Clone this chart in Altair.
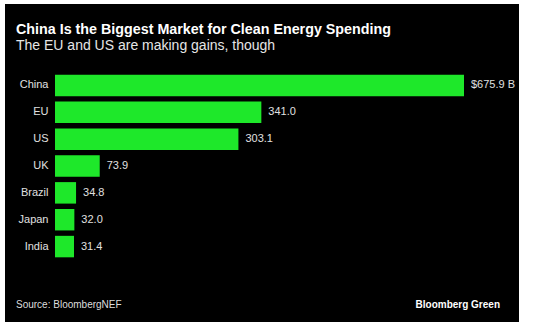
import altair as alt
import pandas as pd

countries = ["China", "EU", "US", "UK", "Brazil", "Japan", "India"]
values = [675.9, 341.0, 303.1, 73.9, 34.8, 32.0, 31.4]
labels = ["$675.9 B", "341.0", "303.1", "73.9", "34.8", "32.0", "31.4"]

title_text = "China Is the Biggest Market for Clean Energy Spending"
subtitle_text = "The EU and US are making gains, though"
source_text = "Source: BloombergNEF"
brand_text = "Bloomberg Green"

df = pd.DataFrame({"country": countries, "value": values, "label": labels})

FONT = "Liberation Sans"
GREEN = "#1ee82a"

x_enc = alt.X("value:Q", axis=None,
              scale=alt.Scale(domain=[0, 675.9], nice=False, zero=True))
y_enc = alt.Y("country:N", sort=countries, title=None,
              scale=alt.Scale(paddingInner=0.2, paddingOuter=0.1),
              axis=alt.Axis(domain=False, ticks=False, labelPadding=7,
                            labelFontSize=11, labelColor="#e0e0e0",
                            labelFont=FONT, grid=False, zindex=2))

one = pd.DataFrame({"k": [0]})

bg = alt.Chart(one).mark_rect(color="black").encode(
    x=alt.value(-50), x2=alt.value(464), y=alt.value(-68), y2=alt.value(250)
)

bars = alt.Chart(df).mark_bar(color=GREEN).encode(x=x_enc, y=y_enc)
vals = alt.Chart(df).mark_text(align="left", baseline="middle", dx=7,
                               fontSize=11, color="#e0e0e0", font=FONT).encode(
    x=x_enc, y=y_enc, text="label:N")

title = alt.Chart(one).mark_text(text=title_text, align="left", baseline="alphabetic",
                                 fontSize=14.3, fontWeight="bold", color="white",
                                 font=FONT).encode(x=alt.value(-39), y=alt.value(-38))
subtitle = alt.Chart(one).mark_text(text=subtitle_text, align="left", baseline="alphabetic",
                                    fontSize=14, color="#e6e6e6",
                                    font=FONT).encode(x=alt.value(-39), y=alt.value(-22))
source = alt.Chart(one).mark_text(text=source_text, align="left", baseline="alphabetic",
                                  fontSize=10, color="#dddddd",
                                  font=FONT).encode(x=alt.value(-39), y=alt.value(236))
brand = alt.Chart(one).mark_text(text=brand_text, align="right", baseline="alphabetic",
                                 fontSize=10, fontWeight="bold", color="white",
                                 font=FONT).encode(x=alt.value(445), y=alt.value(236))

chart = alt.layer(bg, bars, vals, title, subtitle, source, brand).properties(
    width=409, height=188,
    padding={"left": 55, "top": 72, "right": 70, "bottom": 68},
    autosize=alt.AutoSizeParams(type="none"),
    background="white",
).configure_view(strokeWidth=0)

chart.save("out.html", embed_options={"renderer": "svg", "actions": False})
